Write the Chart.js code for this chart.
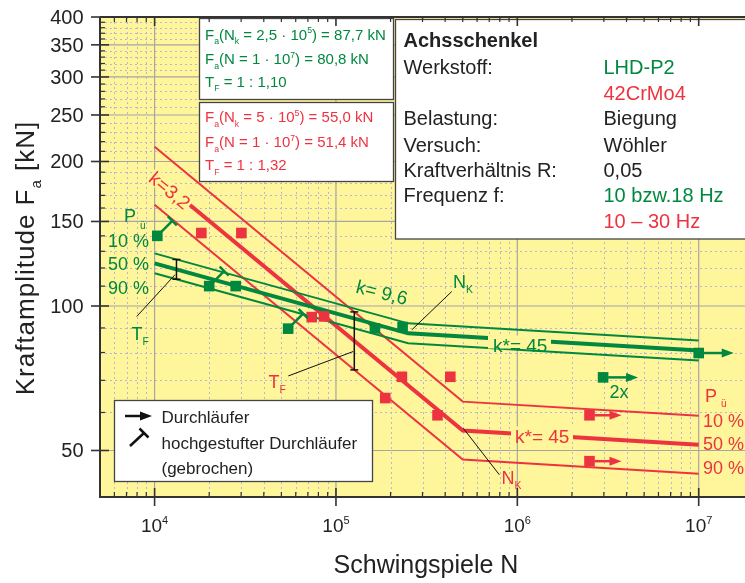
<!DOCTYPE html>
<html>
<head>
<meta charset="utf-8">
<script src="https://cdn.jsdelivr.net/npm/chart.js@4.4.1/dist/chart.umd.min.js"></script>
<style>
  html, body { margin: 0; padding: 0; background: #fff; }
  canvas { display: block; }
</style>
</head>
<body>
<canvas id="chart" width="745" height="583"></canvas>
<script>
// Wöhlerlinien Achsschenkel: LHD-P2 (grün) und 42CrMo4 (rot)
const GREEN = '#00883f';
const RED = '#ee3340';
const INK = '#222222';
const YELLOW = '#fff59b';
const FONT = "'Liberation Sans', Arial, sans-serif";

// Stützpunkte der Wöhlerlinien (N = 1e4, N_k, 1e7)
const greenLineN = [1e4, 2.5e5, 1e7];
const greenF10 = [128.7, 92.0, 84.7];
const greenF50 = [122.7, 87.7, 80.8];
const greenF90 = [117.0, 83.6, 77.0];

const redLineN = [1e4, 5e5, 1e7];
const redF10 = [214.6, 63.2, 59.1];
const redF50 = [186.8, 55.0, 51.4];
const redF90 = [162.6, 47.9, 44.7];

// Versuchspunkte (gebrochen)
const greenN = [1.035e4, 2.0e4, 2.8e4, 5.45e4, 1.64e5, 2.33e5];
const greenF = [140, 110, 110, 89.7, 89.8, 90.4];
const greenUp = [true, true, false, true, false, false]; // hochgestufter Durchläufer
const redN = [1.81e4, 3.01e4, 7.35e4, 8.6e4, 1.87e5, 2.31e5, 4.27e5, 3.63e5];
const redF = [141.9, 141.9, 94.8, 95.1, 64.3, 71.2, 71.2, 59.2];

// Durchläufer
const greenRunN = [1e7, 2.97e6];
const greenRunF = [79.8, 71.0];
const redRunN = [2.5e6, 2.5e6];
const redRunF = [59.2, 47.5];

// Streuspanne T_F
const greenTfN = [1.32e4, 1.32e4];
const greenTfF = [113.7, 125.0];
const redTfN = [1.262e5, 1.262e5];
const redTfF = [73.6, 97.2];

// Hinweislinien zu den Beschriftungen
const greenTfLeadN = [1.296e4, 7.97e3];
const greenTfLeadF = [116.2, 95.1];
const redTfLeadN = [1.246e5, 5.46e4];
const redTfLeadF = [80.4, 71.5];
const greenNkLeadN = [2.62e5, 4.35e5];
const greenNkLeadF = [89.2, 107.2];
const redNkLeadN = [5.04e5, 7.96e5];
const redNkLeadF = [55.6, 44.5];

// Achsen
const xMin = 5000, xMax = 1.8e7;
const yMin = 40, yMax = 400;
const yMajor = [50, 100, 150, 200, 250, 300, 350, 400];
const yMinor = [60, 70, 80, 90, 110, 120, 130, 140, 160, 170, 180, 190, 210, 220, 230, 240,
  260, 270, 280, 290, 310, 320, 330, 340, 360, 370, 380, 390];
const xMajor = [1e4, 1e5, 1e6, 1e7];
const xMajorExp = ['4', '5', '6', '7'];
const xMinor = [6e3, 7e3, 8e3, 9e3,
  2e4, 3e4, 4e4, 5e4, 6e4, 7e4, 8e4, 9e4,
  2e5, 3e5, 4e5, 5e5, 6e5, 7e5, 8e5, 9e5,
  2e6, 3e6, 4e6, 5e6, 6e6, 7e6, 8e6, 9e6];

const pts = (n, f) => n.map((v, i) => ({ x: v, y: f[i] }));

function lineSet(n, f, color, width) {
  return { data: pts(n, f), showLine: true, borderColor: color, borderWidth: width,
    pointRadius: 0, tension: 0 };
}
function squareSet(n, f, color) {
  return { data: pts(n, f), pointStyle: 'rect', pointRadius: 7.5, backgroundColor: color,
    borderWidth: 0, showLine: false };
}
function barSet(n, f) {
  return { data: pts(n, f), showLine: true, borderColor: '#111', borderWidth: 1.5,
    pointStyle: 'line', pointRadius: 4, pointBorderColor: '#111', pointBorderWidth: 1.5 };
}

// Text mit Index / Exponent
function drawRich(ctx, x, y, parts, size, color, align, weight) {
  const small = size * 0.58;
  weight = weight || 'normal';
  let w = 0;
  const m = parts.map(p => {
    const s = p[1] ? small : size;
    ctx.font = weight + ' ' + s + 'px ' + FONT;
    const tw = ctx.measureText(p[0]).width;
    w += tw;
    return { t: p[0], mode: p[1], s: s, tw: tw };
  });
  let cx = align === 'center' ? x - w / 2 : align === 'right' ? x - w : x;
  ctx.fillStyle = color;
  ctx.textAlign = 'left';
  ctx.textBaseline = 'alphabetic';
  m.forEach(p => {
    ctx.font = weight + ' ' + p.s + 'px ' + FONT;
    const dy = p.mode === 'sub' ? size * 0.3 : p.mode === 'sup' ? -size * 0.42 : 0;
    ctx.fillText(p.t, cx, y + dy);
    cx += p.tw;
  });
  return w;
}
function txt(ctx, s, x, y, size, color, align, weight) {
  return drawRich(ctx, x, y, [[s, '']], size, color, align, weight);
}

function arrowRight(ctx, x, y, len, color) {
  ctx.strokeStyle = color; ctx.fillStyle = color; ctx.lineWidth = 2.5;
  ctx.beginPath(); ctx.moveTo(x, y); ctx.lineTo(x + len - 10, y); ctx.stroke();
  ctx.beginPath(); ctx.moveTo(x + len, y); ctx.lineTo(x + len - 12, y - 4.5);
  ctx.lineTo(x + len - 12, y + 4.5); ctx.closePath(); ctx.fill();
}
function upSymbol(ctx, x, y, color) {
  const ex = x + 15, ey = y - 15;
  ctx.strokeStyle = color; ctx.lineWidth = 2.5;
  ctx.beginPath(); ctx.moveTo(x, y); ctx.lineTo(ex, ey); ctx.stroke();
  ctx.beginPath(); ctx.moveTo(ex - 4.5, ey - 4.5); ctx.lineTo(ex + 4.5, ey + 4.5); ctx.stroke();
}
function box(ctx, x, y, w, h) {
  ctx.fillStyle = '#fff'; ctx.fillRect(x, y, w, h);
  ctx.strokeStyle = '#444'; ctx.lineWidth = 1.3; ctx.strokeRect(x, y, w, h);
}

const woehlerPlugin = {
  id: 'woehler',
  beforeDraw(chart) {
    const ctx = chart.ctx, a = chart.chartArea;
    ctx.save();
    ctx.fillStyle = '#fff'; ctx.fillRect(0, 0, chart.width, chart.height);
    ctx.fillStyle = YELLOW; ctx.fillRect(a.left, a.top, a.right - a.left, a.bottom - a.top);
    ctx.restore();
  },
  beforeDatasetsDraw(chart) {
    const ctx = chart.ctx, a = chart.chartArea;
    const xs = chart.scales.x, ys = chart.scales.y;
    ctx.save();
    ctx.lineWidth = 1;
    ctx.strokeStyle = '#b7b7d4';
    ctx.setLineDash([2, 3]);
    xMinor.forEach(v => {
      const px = Math.round(xs.getPixelForValue(v)) + 0.5;
      ctx.beginPath(); ctx.moveTo(px, a.top); ctx.lineTo(px, a.bottom); ctx.stroke();
    });
    yMinor.forEach(v => {
      const py = Math.round(ys.getPixelForValue(v)) + 0.5;
      ctx.beginPath(); ctx.moveTo(a.left, py); ctx.lineTo(a.right, py); ctx.stroke();
    });
    ctx.setLineDash([]);
    ctx.strokeStyle = '#a6a6a6';
    ctx.lineWidth = 1.2;
    xMajor.forEach(v => {
      const px = xs.getPixelForValue(v);
      ctx.beginPath(); ctx.moveTo(px, a.top); ctx.lineTo(px, a.bottom); ctx.stroke();
    });
    yMajor.forEach(v => {
      const py = ys.getPixelForValue(v);
      ctx.beginPath(); ctx.moveTo(a.left, py); ctx.lineTo(a.right, py); ctx.stroke();
    });
    ctx.restore();
  },
  afterDatasetsDraw(chart) {
    const ctx = chart.ctx, a = chart.chartArea;
    const xs = chart.scales.x, ys = chart.scales.y;
    const P = (n, f) => [xs.getPixelForValue(n), ys.getPixelForValue(f)];
    ctx.save();

    // Durchläufer-Pfeile und hochgestufte Durchläufer
    greenRunN.forEach((n, i) => { const p = P(n, greenRunF[i]); arrowRight(ctx, p[0] + 5, p[1], 30, GREEN); });
    redRunN.forEach((n, i) => { const p = P(n, redRunF[i]); arrowRight(ctx, p[0] + 5, p[1], 27, RED); });
    greenN.forEach((n, i) => { if (greenUp[i]) { const p = P(n, greenF[i]); upSymbol(ctx, p[0], p[1], GREEN); } });

    // Neigungen
    ctx.fillStyle = YELLOW;
    ctx.fillRect(488, 335.5, 63, 13);
    ctx.fillRect(511, 426.5, 62, 13);
    txt(ctx, 'k*= 45', 493, 351.5, 19, GREEN, 'left');
    txt(ctx, 'k*= 45', 515, 442.5, 19, RED, 'left');

    ctx.save();
    ctx.translate(170, 190);
    ctx.rotate(39.5 * Math.PI / 180);
    ctx.fillStyle = YELLOW;
    ctx.fillRect(-25, -8, 50, 16);
    txt(ctx, 'k=3,2', 0, 7, 19, RED, 'center');
    ctx.restore();

    ctx.save();
    ctx.translate(382, 292);
    ctx.rotate(14 * Math.PI / 180);
    txt(ctx, 'k= 9,6', 0, 7, 19, GREEN, 'center');
    ctx.restore();

    // Beschriftungen
    drawRich(ctx, 453, 287.5, [['N', ''], ['K', 'sub']], 18, GREEN, 'left');
    drawRich(ctx, 501.5, 484, [['N', ''], ['K', 'sub']], 18, RED, 'left');
    drawRich(ctx, 131.5, 340, [['T', ''], ['F', 'sub']], 18, GREEN, 'left');
    drawRich(ctx, 268.5, 388, [['T', ''], ['F', 'sub']], 18, RED, 'left');
    txt(ctx, '2x', 619, 398, 18, GREEN, 'center');

    txt(ctx, 'P', 124, 222, 18, GREEN, 'left');
    txt(ctx, 'ü', 140, 229, 10, GREEN, 'left');
    txt(ctx, '10 %', 108, 247, 18, GREEN, 'left');
    txt(ctx, '50 %', 108, 270, 18, GREEN, 'left');
    txt(ctx, '90 %', 108, 293.5, 18, GREEN, 'left');

    txt(ctx, 'P', 705, 401.5, 18, RED, 'left');
    txt(ctx, 'ü', 721, 407, 10, RED, 'left');
    txt(ctx, '10 %', 703, 426.5, 18, RED, 'left');
    txt(ctx, '50 %', 703, 450, 18, RED, 'left');
    txt(ctx, '90 %', 703, 473.5, 18, RED, 'left');

    // Kennwert-Kästen
    box(ctx, 199.5, 18.5, 194, 81);
    drawRich(ctx, 205, 39.5, [['F', ''], ['a', 'sub'], ['(N', ''], ['k', 'sub'], [' = 2,5 · 10', ''], ['5', 'sup'], [') = 87,7 kN', '']], 15, GREEN, 'left');
    drawRich(ctx, 205, 64, [['F', ''], ['a', 'sub'], ['(N = 1 · 10', ''], ['7', 'sup'], [') = 80,8 kN', '']], 15, GREEN, 'left');
    drawRich(ctx, 205, 86.5, [['T', ''], ['F', 'sub'], [' = 1 : 1,10', '']], 15, GREEN, 'left');

    box(ctx, 199.5, 102.5, 194, 79);
    drawRich(ctx, 205, 122, [['F', ''], ['a', 'sub'], ['(N', ''], ['k', 'sub'], [' = 5 · 10', ''], ['5', 'sup'], [') = 55,0 kN', '']], 15, RED, 'left');
    drawRich(ctx, 205, 147, [['F', ''], ['a', 'sub'], ['(N = 1 · 10', ''], ['7', 'sup'], [') = 51,4 kN', '']], 15, RED, 'left');
    drawRich(ctx, 205, 170, [['T', ''], ['F', 'sub'], [' = 1 : 1,32', '']], 15, RED, 'left');

    box(ctx, 395.5, 19.5, 360, 219.5);
    txt(ctx, 'Achsschenkel', 403.5, 47, 20, INK, 'left', 'bold');
    const lx = 403.5, rx = 603.5;
    txt(ctx, 'Werkstoff:', lx, 73.5, 20, INK, 'left');
    txt(ctx, 'LHD-P2', rx, 73.5, 20, GREEN, 'left');
    txt(ctx, '42CrMo4', rx, 99.5, 20, RED, 'left');
    txt(ctx, 'Belastung:', lx, 125, 20, INK, 'left');
    txt(ctx, 'Biegung', rx, 125, 20, INK, 'left');
    txt(ctx, 'Versuch:', lx, 151.5, 20, INK, 'left');
    txt(ctx, 'Wöhler', rx, 151.5, 20, INK, 'left');
    txt(ctx, 'Kraftverhältnis R:', lx, 176.5, 20, INK, 'left');
    txt(ctx, '0,05', rx, 176.5, 20, INK, 'left');
    txt(ctx, 'Frequenz f:', lx, 202, 20, INK, 'left');
    txt(ctx, '10 bzw.18 Hz', rx, 202, 20, GREEN, 'left');
    txt(ctx, '10 – 30 Hz', rx, 228, 20, RED, 'left');

    // Legende
    box(ctx, 114.5, 400.5, 258, 81);
    arrowRight(ctx, 125, 416, 27, '#111');
    ctx.strokeStyle = '#111'; ctx.lineWidth = 2.5;
    ctx.beginPath(); ctx.moveTo(130, 446); ctx.lineTo(144, 433); ctx.stroke();
    ctx.beginPath(); ctx.moveTo(139.5, 428.5); ctx.lineTo(148.5, 437.5); ctx.stroke();
    txt(ctx, 'Durchläufer', 161.5, 423, 17, INK, 'left');
    txt(ctx, 'hochgestufter Durchläufer', 161.5, 448.5, 17, INK, 'left');
    txt(ctx, '(gebrochen)', 161.5, 473.5, 17, INK, 'left');

    // Achsen, Ticks
    ctx.strokeStyle = '#333';
    ctx.lineWidth = 2;
    ctx.beginPath();
    ctx.moveTo(a.left, a.top); ctx.lineTo(a.left, a.bottom); ctx.lineTo(a.right, a.bottom);
    ctx.moveTo(a.left, a.top); ctx.lineTo(a.right, a.top);
    ctx.stroke();
    ctx.lineWidth = 1.6;
    xMajor.forEach(v => {
      const px = xs.getPixelForValue(v);
      ctx.beginPath();
      ctx.moveTo(px, a.bottom - 9); ctx.lineTo(px, a.bottom + 9);
      ctx.moveTo(px, a.top); ctx.lineTo(px, a.top + 9);
      ctx.stroke();
    });
    yMajor.forEach(v => {
      const py = ys.getPixelForValue(v);
      ctx.beginPath(); ctx.moveTo(a.left - 9, py); ctx.lineTo(a.left + 9, py); ctx.stroke();
    });
    ctx.lineWidth = 1.2;
    xMinor.forEach(v => {
      const px = xs.getPixelForValue(v);
      ctx.beginPath();
      ctx.moveTo(px, a.bottom - 5); ctx.lineTo(px, a.bottom);
      ctx.moveTo(px, a.top); ctx.lineTo(px, a.top + 5);
      ctx.stroke();
    });
    yMinor.forEach(v => {
      const py = ys.getPixelForValue(v);
      ctx.beginPath(); ctx.moveTo(a.left, py); ctx.lineTo(a.left + 5, py); ctx.stroke();
    });

    yMajor.forEach(v => txt(ctx, String(v), 83.5, ys.getPixelForValue(v) + 7, 20, INK, 'right'));
    xMajor.forEach((v, i) => drawRich(ctx, xs.getPixelForValue(v), 531.5, [['10', ''], [xMajorExp[i], 'sup']], 19, INK, 'center'));

    txt(ctx, 'Schwingspiele N', 426, 573, 25, INK, 'center');
    ctx.save();
    ctx.translate(33.5, 258);
    ctx.rotate(-Math.PI / 2);
    ctx.letterSpacing = '1px';
    drawRich(ctx, 0, 0, [['Kraftamplitude F', ''], ['a', 'sub'], [' [kN]', '']], 26, INK, 'center');
    ctx.restore();

    ctx.restore();
  }
};

new Chart(document.getElementById('chart'), {
  type: 'scatter',
  data: {
    datasets: [
      squareSet(greenN, greenF, GREEN),
      squareSet(greenRunN, greenRunF, GREEN),
      squareSet(redN, redF, RED),
      squareSet(redRunN, redRunF, RED),
      barSet(greenTfN, greenTfF),
      barSet(redTfN, redTfF),
      lineSet(greenTfLeadN, greenTfLeadF, '#111', 1),
      lineSet(redTfLeadN, redTfLeadF, '#111', 1),
      lineSet(greenNkLeadN, greenNkLeadF, '#111', 1),
      lineSet(redNkLeadN, redNkLeadF, '#111', 1),
      lineSet(greenLineN, greenF10, GREEN, 2),
      lineSet(greenLineN, greenF50, GREEN, 4),
      lineSet(greenLineN, greenF90, GREEN, 2),
      lineSet(redLineN, redF10, RED, 2),
      lineSet(redLineN, redF50, RED, 4),
      lineSet(redLineN, redF90, RED, 2)
    ]
  },
  options: {
    responsive: false,
    animation: false,
    layout: { autoPadding: false, padding: { left: 100, top: 17, right: 0, bottom: 86 } },
    plugins: { legend: { display: false }, tooltip: { enabled: false } },
    scales: {
      x: { type: 'logarithmic', min: xMin, max: xMax, display: false },
      y: { type: 'logarithmic', min: yMin, max: yMax, display: false }
    }
  },
  plugins: [woehlerPlugin]
});
</script>
</body>
</html>
